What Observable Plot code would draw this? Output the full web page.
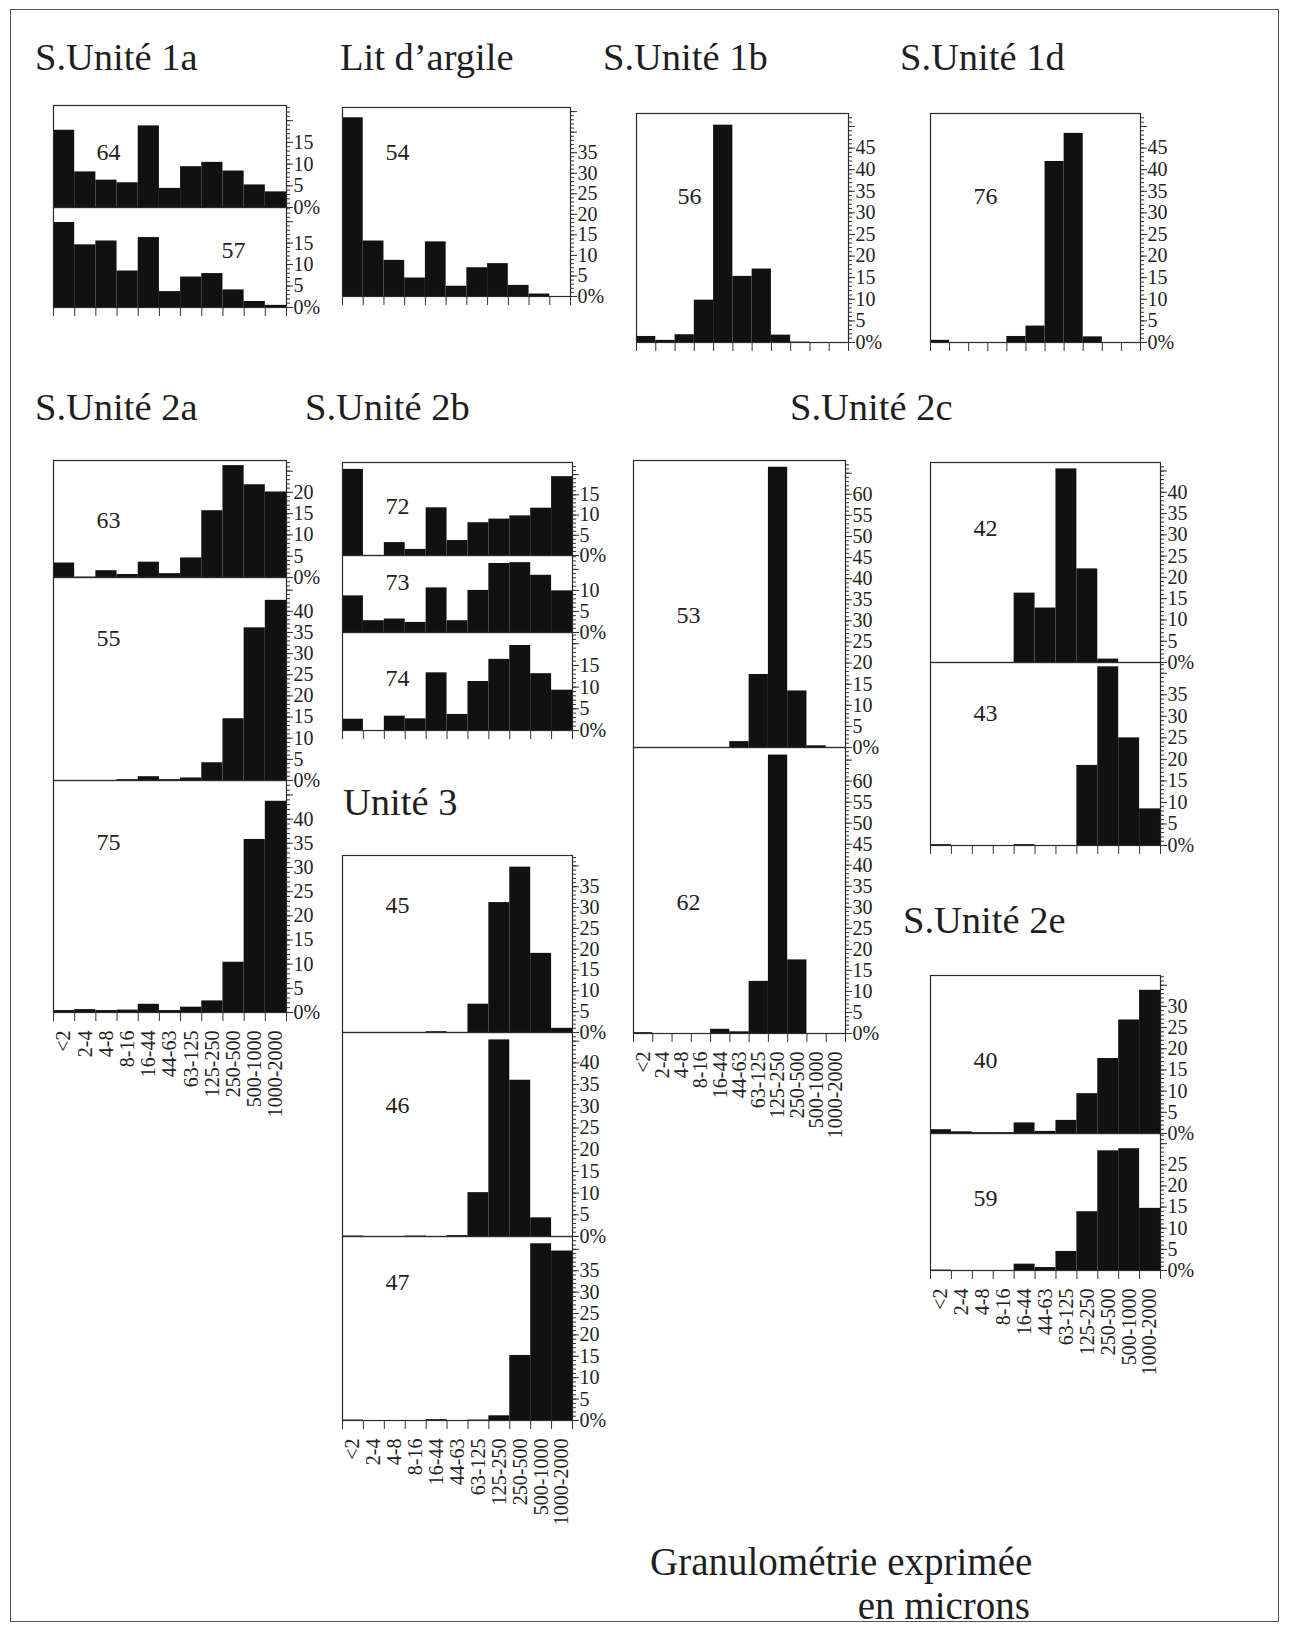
<!DOCTYPE html>
<html><head><meta charset="utf-8">
<script src="https://cdn.jsdelivr.net/npm/d3@7"></script>
<script src="https://cdn.jsdelivr.net/npm/@observablehq/plot@0.6"></script>
<style>
body{margin:0;background:#fff;}
#page{position:relative;width:1289px;height:1627px;font-family:"Liberation Serif","Times New Roman",serif;color:#1e1e1e;overflow:hidden}
.frame{position:absolute;left:10px;top:9px;width:1269px;height:1613px;border:1.5px solid #555;box-sizing:border-box}
.title{position:absolute;font-size:38.5px;white-space:nowrap;line-height:1}
.cap{position:absolute;font-size:39px;white-space:nowrap;line-height:1}
.panel{position:absolute}
</style></head><body><div id="page"><div class="frame"></div></div>
<script>
// grain-size classes (microns)
const bins = ["<2","2-4","4-8","8-16","16-44","44-63","63-125","125-250","250-500","500-1000","1000-2000"];

// sample percentages per class
const s64 = [17.8, 8.2, 6.3, 5.7, 18.8, 4.4, 9.4, 10.4, 8.4, 5.2, 3.6];
const s57 = [19.8, 14.6, 15.5, 8.5, 16.3, 3.7, 7.1, 7.9, 4.1, 1.4, 0.5];
const s54 = [43.5, 13.5, 8.8, 4.5, 13.3, 2.5, 7.0, 8.0, 2.7, 0.6, 0];
const s56 = [1.4, 0.5, 1.8, 9.8, 50.3, 15.3, 17.0, 1.7, 0.1, 0, 0];
const s76 = [0.5, 0, 0, 0, 1.4, 3.8, 41.9, 48.4, 1.3, 0, 0];
const s63 = [3.4, 0.1, 1.6, 0.7, 3.6, 0.9, 4.6, 15.7, 26.3, 21.8, 20.1];
const s55 = [0, 0, 0, 0.2, 0.9, 0.2, 0.6, 4.2, 14.6, 36.1, 42.6];
const s75 = [0.4, 0.6, 0.4, 0.5, 1.7, 0.4, 1.1, 2.4, 10.4, 35.8, 43.7];
const s72 = [21.3, 0, 3.2, 1.5, 11.8, 3.7, 8.1, 9.0, 9.8, 11.7, 19.5];
const s73 = [8.7, 2.8, 3.2, 2.4, 10.6, 2.8, 10.0, 16.4, 16.6, 13.6, 9.9];
const s74 = [2.6, 0, 3.3, 2.7, 13.3, 3.7, 11.3, 16.4, 19.6, 13.1, 9.3];
const s53 = [0, 0, 0, 0, 0, 1.4, 17.3, 66.4, 13.4, 0.4, 0];
const s62 = [0.2, 0, 0, 0, 1.0, 0.4, 12.4, 66.2, 17.5, 0, 0];
const s42 = [0, 0, 0, 0, 16.3, 12.8, 45.5, 22.0, 0.8, 0, 0];
const s43 = [0.2, 0, 0, 0, 0.2, 0, 0, 18.6, 41.5, 25.0, 8.5];
const s45 = [0, 0, 0, 0, 0.2, 0, 6.8, 31.2, 39.7, 19.0, 1.0];
const s46 = [0.1, 0, 0, 0.1, 0, 0.2, 10.1, 45.3, 36.0, 4.3, 0];
const s47 = [0.1, 0, 0, 0, 0.2, 0, 0.1, 1.1, 15.2, 41.3, 39.6];
const s40 = [0.9, 0.4, 0.2, 0.2, 2.5, 0.5, 3.1, 9.4, 17.7, 26.8, 33.8];
const s59 = [0.1, 0, 0, 0, 1.5, 0.7, 4.5, 13.9, 28.3, 28.8, 14.7];

// axis extent (%) and highest labelled tick per sample
const axisMax   = {"64":23.5,"57":23.3,"54":46,"56":53,"76":53,"63":27.5,"55":48,"75":48,"72":23,"73":18.3,"74":22.6,"53":68,"62":68,"42":47,"43":42.5,"45":42.5,"46":47,"47":43,"40":37.3,"59":32.4};
const labelMax  = {"64":15,"57":15,"54":35,"56":45,"76":45,"63":20,"55":40,"75":40,"72":15,"73":10,"74":15,"53":60,"62":60,"42":40,"43":35,"45":35,"46":40,"47":35,"40":30,"59":25};

const titles = ["S.Unité 1a","Lit d’argile","S.Unité 1b","S.Unité 1d","S.Unité 2a","S.Unité 2b","S.Unité 2c","Unité 3","S.Unité 2e"];
const caption = ["Granulométrie exprimée","en microns"];

// ---------- layout (page pixels) ----------
const titlePos = [[35,55],[340,55],[603,55],[900,55],[35,405],[305,405],[790,405],[343,800],[903,918]];
const groups = [
  {x0:53, x1:286, labels:false, panels:[["64",s64,105,207,55,47],["57",s57,207,307,180,43]]},
  {x0:342,x1:570, labels:false, panels:[["54",s54,107,296,55,45]]},
  {x0:636,x1:848, labels:false, panels:[["56",s56,113,342,53,83]]},
  {x0:930,x1:1140,labels:false, panels:[["76",s76,113,342,55,83]]},
  {x0:53, x1:286, labels:true,  panels:[["63",s63,460,577,55,60],["55",s55,577,780,55,61],["75",s75,780,1012,55,62]]},
  {x0:342,x1:572, labels:false, panels:[["72",s72,462,555,55,44],["73",s73,555,632,55,27],["74",s74,632,730,55,46]]},
  {x0:633,x1:845, labels:true,  panels:[["53",s53,460,747,55,155],["62",s62,747,1033,55,155]]},
  {x0:930,x1:1160,labels:false, panels:[["42",s42,462,662,55,66],["43",s43,662,845,55,51]]},
  {x0:342,x1:572, labels:true,  panels:[["45",s45,855,1032,55,50],["46",s46,1032,1236,55,73],["47",s47,1236,1420,55,46]]},
  {x0:930,x1:1160,labels:true,  panels:[["40",s40,975,1133,55,85],["59",s59,1133,1270,55,65]]}
];

const page = document.getElementById("page");
const FONT = "'Liberation Serif','Times New Roman',serif";

titles.forEach((t,i)=>{
  const d = document.createElement("div");
  d.className = "title"; d.textContent = t;
  d.style.left = titlePos[i][0]+"px"; d.style.top = (titlePos[i][1]-17.5)+"px";
  page.appendChild(d);
});
{
  const c1 = document.createElement("div");
  c1.className="cap"; c1.textContent=caption[0];
  c1.style.left="650px"; c1.style.top="1542px"; page.appendChild(c1);
  const c2 = document.createElement("div");
  c2.className="cap"; c2.textContent=caption[1];
  c2.style.right=(1289-1030)+"px"; c2.style.top="1586px"; page.appendChild(c2);
}

groups.forEach(g=>{
  const W = g.x1 - g.x0;
  g.panels.forEach((p,pi)=>{
    const [name, vals, top, base, lx, ly] = p;
    const H = base - top;
    const ymax = axisMax[name], lmax = labelMax[name];
    const last = pi === g.panels.length-1;
    const mb = last ? (g.labels ? 112 : 13) : 0;
    const data = vals.map((v,i)=>({i, v}));
    const marks = [
      Plot.rectY(data, {x1: d=>d.i, x2: d=>d.i+1, y1: 0, y2: d=>d.v, fill:"#111"}),
      Plot.frame({stroke:"#2a2a2a", strokeWidth:1.2}),
      Plot.axisY({anchor:"right", ticks: d3.range(0, ymax, 1), tickSize:3, tickFormat:()=>"", stroke:"#333"}),
      Plot.axisY({anchor:"right", ticks: d3.range(0, ymax, 5), tickSize:6, tickPadding:1,
        tickFormat: d => d > lmax ? "" : (d===0 ? "0%" : String(d)), fontSize:20, fill:"#222", stroke:"#333"}),
      Plot.text([name], {frameAnchor:"top-left", dx:lx, dy:ly, fontSize:24, fill:"#222", textAnchor:"middle", lineAnchor:"middle"})
    ];
    if (last) {
      marks.push(Plot.axisX({anchor:"bottom", ticks: d3.range(0,12), tickSize:9, tickFormat:()=>"", stroke:"#333"}));
      if (g.labels) marks.push(Plot.axisX({anchor:"bottom", ticks: d3.range(11).map(i=>i+0.5), tickSize:0, tickPadding:18,
        tickRotate:-90, tickFormat: v => bins[Math.floor(v)], fontSize:20, fill:"#222"}));
    }
    const svg = Plot.plot({
      width: W + 50, height: H + mb,
      marginLeft:0, marginRight:50, marginTop:0, marginBottom:mb,
      x:{domain:[0,11], axis:null}, y:{domain:[0,ymax], axis:null},
      style:{overflow:"visible", fontFamily:FONT, fontSize:"20px", background:"transparent"},
      marks
    });
    svg.classList.add("panel");
    svg.style.left = g.x0+"px"; svg.style.top = top+"px";
    page.appendChild(svg);
  });
});
</script></body></html>
